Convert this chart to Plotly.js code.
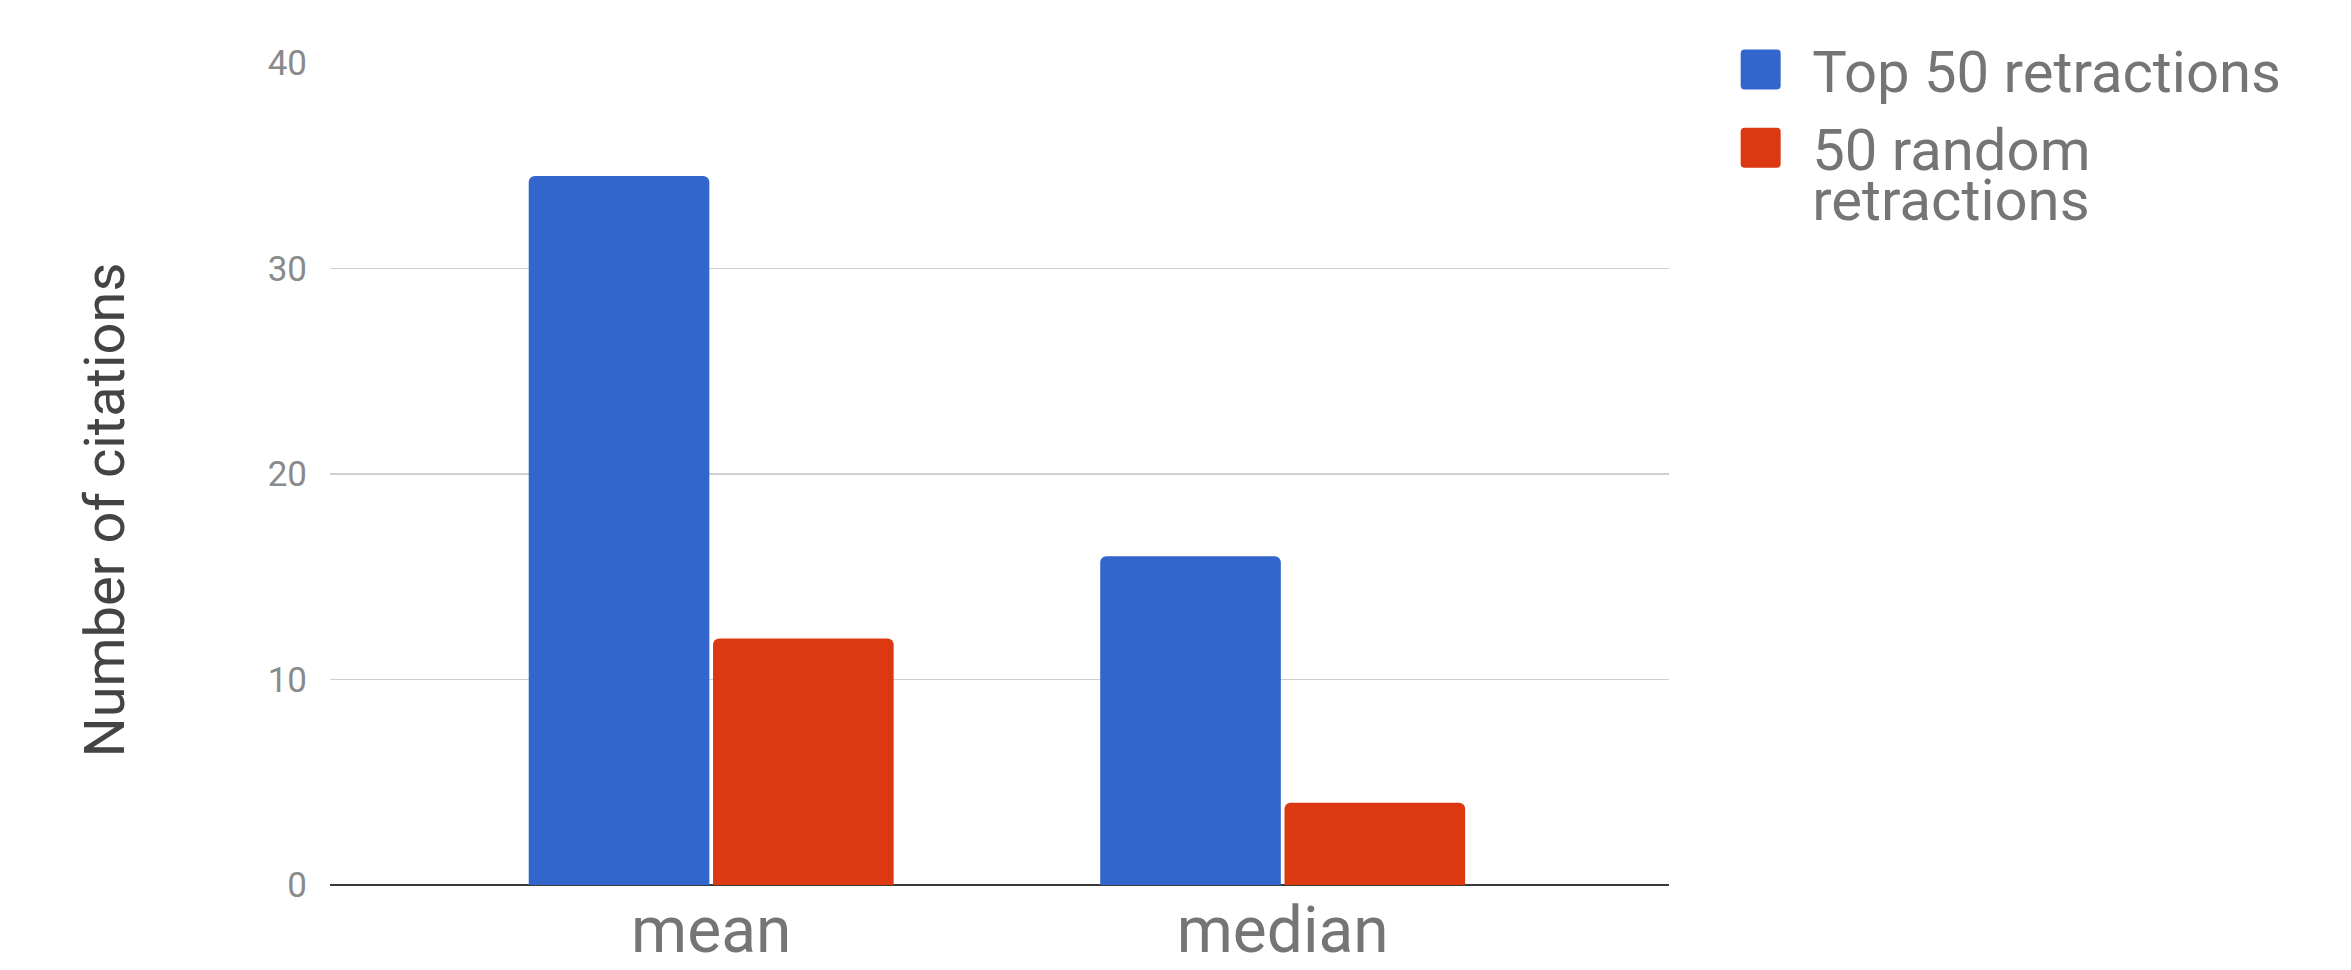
<!DOCTYPE html>
<html>
<head>
<meta charset="utf-8">
<script src="https://cdn.plot.ly/plotly-3.0.1.min.js"></script>
<style>
  html, body { margin: 0; padding: 0; background: #ffffff; }
  #chart { width: 2351px; height: 970px; }
</style>
</head>
<body>
<div id="chart"></div>
<script>
// ---- Data ----
const categories = ['mean', 'median'];
const top50Values = [34.5, 16];
const random50Values = [12, 4];
const seriesNames = ['Top 50 retractions', '50 random<br>retractions'];
const yTickValues = [0, 10, 20, 30, 40];
const yTickLabels = ['0', '10', '20', '30', '40'];
const yAxisTitle = 'Number of citations';

const seriesColors = ['#3366cc', '#dc3912'];

const traces = [
  {
    type: 'bar',
    name: seriesNames[0],
    x: categories,
    y: top50Values,
    marker: { color: seriesColors[0], cornerradius: 6 },
    hoverinfo: 'x+y+name'
  },
  {
    type: 'bar',
    name: seriesNames[1],
    x: categories,
    y: random50Values,
    marker: { color: seriesColors[1], cornerradius: 6 },
    hoverinfo: 'x+y+name'
  }
];

const layout = {
  width: 2351,
  height: 970,
  paper_bgcolor: '#ffffff',
  plot_bgcolor: '#ffffff',
  font: { family: 'Roboto, Arial, sans-serif', color: '#757575' },
  margin: { l: 330, r: 682, t: 63, b: 85, pad: 0 },
  barmode: 'group',
  bargap: 0.355,
  bargroupgap: 0.02,
  showlegend: true,
  legend: {
    x: 1.03,
    xanchor: 'left',
    y: 1.046,
    yanchor: 'top',
    valign: 'top',
    itemwidth: 93,
    font: { family: 'Roboto, Arial, sans-serif', size: 58, color: '#757575' },
    bgcolor: 'rgba(0,0,0,0)',
    tracegroupgap: 0
  },
  xaxis: {
    type: 'category',
    range: [-0.667, 1.676],
    showgrid: false,
    showline: false,
    zeroline: false,
    ticks: '',
    tickfont: { family: 'Roboto, Arial, sans-serif', size: 64, color: '#757575' },
    ticklabelstandoff: 2
  },
  yaxis: {
    range: [0, 40],
    tickmode: 'array',
    tickvals: yTickValues,
    ticktext: yTickLabels,
    showgrid: true,
    gridcolor: '#d0d0d0',
    gridwidth: 1.5,
    zeroline: true,
    zerolinecolor: '#3a3a3a',
    zerolinewidth: 2.5,
    showline: false,
    ticks: '',
    ticklabelstandoff: 22,
    tickfont: { family: 'Roboto, Arial, sans-serif', size: 35, color: '#8a8a8a' },
    title: {
      text: yAxisTitle,
      font: { family: 'Roboto, Arial, sans-serif', size: 56, color: '#444444' },
      standoff: 125
    }
  }
};

function roundedSquare(h, r) {
  return 'M' + (-h + r) + ',' + (-h) +
    'H' + (h - r) + 'A' + r + ',' + r + ' 0 0 1 ' + h + ',' + (-h + r) +
    'V' + (h - r) + 'A' + r + ',' + r + ' 0 0 1 ' + (h - r) + ',' + h +
    'H' + (-h + r) + 'A' + r + ',' + r + ' 0 0 1 ' + (-h) + ',' + (h - r) +
    'V' + (-h + r) + 'A' + r + ',' + r + ' 0 0 1 ' + (-h + r) + ',' + (-h) + 'Z';
}

Plotly.newPlot('chart', traces, layout, { displayModeBar: false, staticPlot: true }).then(function () {
  // enlarge legend swatches to match the reference's big squares
  document.querySelectorAll('#chart .legend .legendpoints path').forEach(function (p) {
    p.setAttribute('d', roundedSquare(20, 4));
    p.style.strokeWidth = '0px';
  });
  // tighter line spacing for the two-line legend label
  document.querySelectorAll('#chart .legend text.legendtext tspan.line').forEach(function (t, i) {
    var dy = t.getAttribute('dy');
    if (dy && parseFloat(dy) > 0) t.setAttribute('dy', '0.85em');
  });
  // nudge the y-axis title slightly downward like the reference
  var yt = document.querySelector('#chart g.g-ytitle');
  if (yt) yt.setAttribute('transform', 'translate(0,36)');
});
</script>
</body>
</html>
